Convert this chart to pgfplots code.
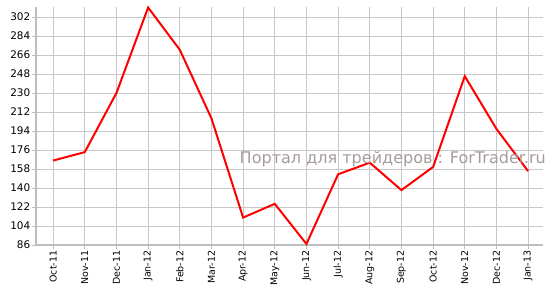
\documentclass[border=0pt]{standalone}
\usepackage{fontspec}
\setmainfont{DejaVu Sans}
\usepackage{pgfplots}
\pgfplotsset{compat=1.18}
\definecolor{gridc}{RGB}{200,200,200}
\definecolor{axc}{RGB}{190,190,190}
\definecolor{wm}{RGB}{165,155,155}
\begin{document}
\begin{tikzpicture}
\begin{axis}[
  name=ax,
  scale only axis,
  width=507bp, height=238bp,
  xmin=-0.54, xmax=15.47,
  ymin=86, ymax=311.5,
  ytick={86,104,...,302},
  xtick={0,...,15},
  xticklabels={Oct-11,Nov-11,Dec-11,Jan-12,Feb-12,Mar-12,Apr-12,May-12,Jun-12,Jul-12,Aug-12,Sep-12,Oct-12,Nov-12,Dec-12,Jan-13},
  xticklabel style={rotate=90, anchor=east, font=\fontsize{9.5}{10}\selectfont, inner sep=1.5bp},
  yticklabel style={font=\fontsize{10.5}{11}\selectfont, inner sep=1.5bp},
  /pgf/number format/assume math mode=true,
  axis x line*=bottom, axis y line*=left,
  axis line style={axc, line width=2bp, -},
  grid=major,
  major grid style={gridc, line width=0.9bp},
  tick style={axc, line width=0.9bp},
  major tick length=4bp,
  tick pos=left,
  tick align=outside,
  clip=false,
]
\addplot[red, line width=2bp, mark=none] coordinates {
(0,166) (1,174) (2,230) (3,311) (4,271) (5,206) (6,112) (7,125)
(8,87) (9,153) (10,164) (11,138) (12,160) (13,246) (14,196) (15,156)
};
\node[text=wm, font=\fontsize{16.1}{17}\selectfont, anchor=base east, inner sep=0pt] at (rel axis cs:1.006,0.343) {Портал для трейдеров : ForTrader.ru};
\end{axis}
\path[use as bounding box] ([xshift=-36bp,yshift=-50bp]ax.south west) rectangle ([xshift=10bp,yshift=7bp]ax.north east);
\end{tikzpicture}
\end{document}
